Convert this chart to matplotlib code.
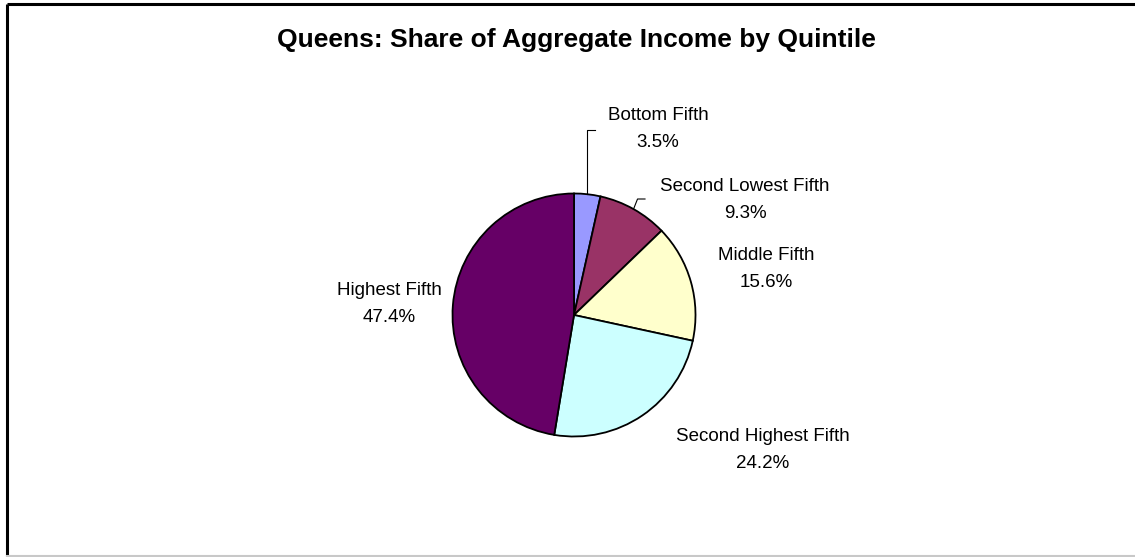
import numpy as np
import matplotlib.pyplot as plt

plt.rcParams['font.family'] = ['Liberation Sans', 'DejaVu Sans']

# Queens aggregate income shares by quintile
quintiles = ['Bottom Fifth', 'Second Lowest Fifth', 'Middle Fifth',
             'Second Highest Fifth', 'Highest Fifth']
shares = [3.5, 9.3, 15.6, 24.2, 47.4]
colors = ['#9999FF', '#993366', '#FFFFCC', '#CCFFFF', '#660066']

W, H = 1135, 557
fig = plt.figure(figsize=(W / 100, H / 100), dpi=100)
ax = fig.add_axes([0, 0, 1, 1])

# chart frame: dark top/left, light bottom
ax.plot([7, 7], [556, 4], color='black', lw=2.2, solid_capstyle='butt')
ax.plot([7, W], [4, 4], color='black', lw=2.2, solid_capstyle='butt')
ax.plot([7, W], [556, 556], color='#c8c8c8', lw=1.5)

cx, cy, r = 574, 315, 121.5

# y axis is inverted, so counterclock=True draws clockwise on screen
# with startangle=-90 meaning 12 o'clock
wedges, _ = ax.pie(shares, colors=colors, startangle=-90, counterclock=True,
                   center=(cx, cy), radius=r, frame=True,
                   wedgeprops=dict(edgecolor='black', linewidth=1.3))
ax.set_xlim(0, W)
ax.set_ylim(H, 0)
ax.set_aspect('equal')
ax.axis('off')

# label positions (pixel coords of the label centre)
label_pos = [(658, 129), (745, 200), (766, 269), (763, 450), (389, 304)]

cum = np.cumsum([0] + shares)
for i, (name, val) in enumerate(zip(quintiles, shares)):
    lx, ly = label_pos[i]
    ax.text(lx, ly, f'{name}\n{val:.1f}%', ha='center', va='center',
            fontsize=13.5, linespacing=1.8)

# leader lines for the two thin slices
for i, (top_y, hx) in zip([0, 1], [(130, 595), (199, 645)]):
    mid = np.deg2rad(90 - (cum[i] + shares[i] / 2) * 3.6)
    ex, ey = cx + r * np.cos(mid), cy - r * np.sin(mid)
    if i == 0:
        ax.plot([ex, ex, hx], [ey, top_y, top_y], color='black', lw=0.8)
    else:
        ax.plot([ex, ex + 4, hx], [ey, top_y, top_y], color='black', lw=0.8)

ax.text(576, 40, 'Queens: Share of Aggregate Income by Quintile',
        ha='center', va='center', fontsize=19, fontweight='bold')

fig.savefig('out.png', dpi=100)
